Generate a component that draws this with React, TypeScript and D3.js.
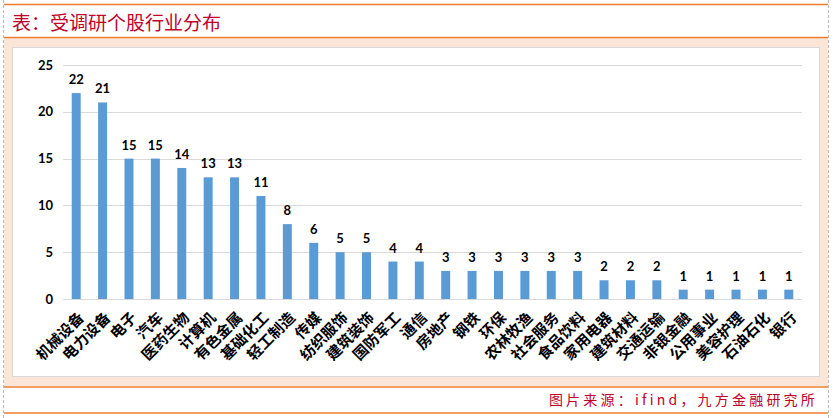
import React from "react";
import * as d3 from "d3";

const categories = ["机械设备","电力设备","电子","汽车","医药生物","计算机","有色金属","基础化工","轻工制造","传媒","纺织服饰","建筑装饰","国防军工","通信","房地产","钢铁","环保","农林牧渔","社会服务","食品饮料","家用电器","建筑材料","交通运输","非银金融","公用事业","美容护理","石油石化","银行"];
const values = [22,21,15,15,14,13,13,11,8,6,5,5,4,4,3,3,3,3,3,3,2,2,2,1,1,1,1,1];
const yTicks = [0,5,10,15,20,25];
const title = "表：受调研个股行业分布";
const source = "图片来源：ifind，九方金融研究所";

export default function App() {
  const W = 833, H = 418;
  const x = d3.scaleBand<string>().domain(categories).range([63, 802]).paddingInner(0.66).paddingOuter(0.33);
  const y = d3.scaleLinear().domain([0, 25]).range([299, 65]);
  const orange = "#ED7D31";
  const red = "#C0002A";
  return (
    <svg width={W} height={H} style={{ position: "absolute", left: 0, top: 0 }}>
      <rect x={0} y={0} width={W} height={H} fill="#fff" />
      <line x1={3.5} y1={0} x2={3.5} y2={H} stroke="#bbb" strokeDasharray="3,2" />
      <line x1={828.5} y1={0} x2={828.5} y2={H} stroke="#bbb" strokeDasharray="3,2" />
      <rect x={4} y={38} width={824} height={348} fill="#FBE5D6" />
      <line x1={4} y1={4.5} x2={828} y2={4.5} stroke={orange} strokeWidth={1.5} />
      <line x1={4} y1={37.5} x2={828} y2={37.5} stroke={orange} strokeWidth={1.5} />
      <line x1={4} y1={387} x2={828} y2={387} stroke={orange} strokeWidth={1.5} />
      <line x1={4} y1={413} x2={828} y2={413} stroke={orange} strokeWidth={1.5} />
      <text x={12} y={30} fill={red} fontSize={19} fontFamily="'Noto Sans CJK SC', sans-serif">{title}</text>
      <text x={818} y={405} fill={red} fontSize={14} letterSpacing={3.2} textAnchor="end" fontFamily="'Noto Sans CJK SC', sans-serif">{source}</text>
      <rect x={12.5} y={47.5} width={807} height={329} fill="#fff" stroke="#d9d9d9" strokeWidth={1} />
      {yTicks.map((t) => (
        <g key={t}>
          <line x1={63} x2={802} y1={Math.round(y(t)) + 0.5} y2={Math.round(y(t)) + 0.5} stroke="#d9d9d9" strokeWidth={1} />
          <text x={53} y={y(t)} dy="0.35em" textAnchor="end" fontSize={13} fontWeight="bold" fontFamily="Lato, 'Open Sans', sans-serif" fill="#000">{t}</text>
        </g>
      ))}
      {categories.map((c, i) => {
        const bx = x(c)!;
        const cx = bx + x.bandwidth() / 2;
        return (
          <g key={c}>
            <rect x={bx} y={y(values[i])} width={x.bandwidth()} height={y(0) - y(values[i])} fill="#5B9BD5" />
            <text x={cx} y={y(values[i]) - 9} textAnchor="middle" fontSize={13} fontWeight="bold" fontFamily="Lato, 'Open Sans', sans-serif" fill="#000">{values[i]}</text>
            <text transform={`translate(${cx + 5},${315}) rotate(-45)`} textAnchor="end" dy="0.35em" fontSize={15} fontWeight="bold" fontFamily="'Noto Sans CJK SC', serif" fill="#000">{c}</text>
          </g>
        );
      })}
    </svg>
  );
}
